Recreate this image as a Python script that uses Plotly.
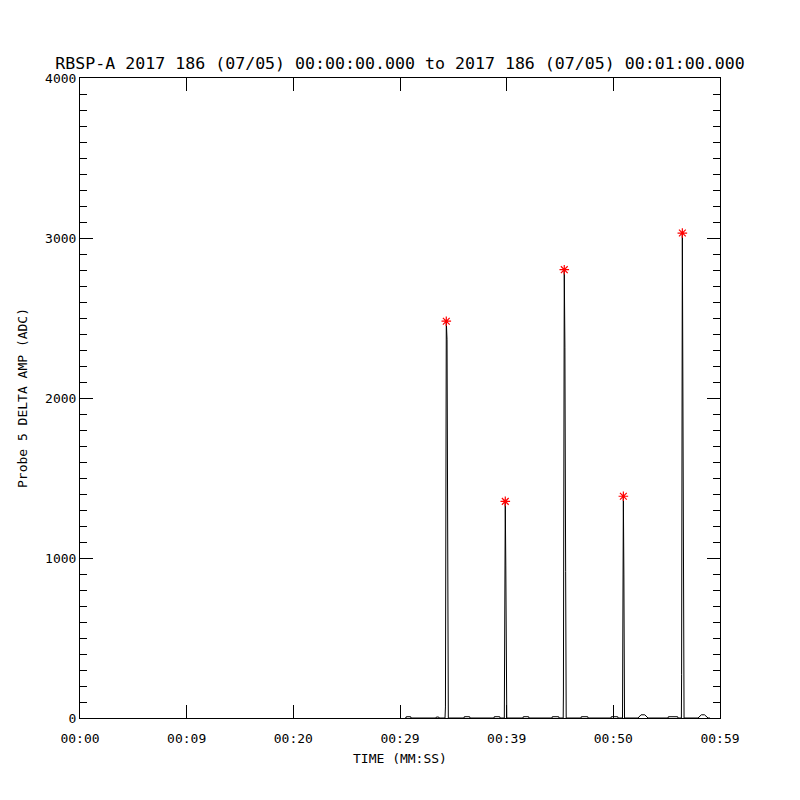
import plotly.graph_objects as go

# ---- data (time in seconds since 00:00:00, amplitude in ADC) ----
time_s = [30.47,
          30.56, 30.59, 31.00, 31.03,
          33.38, 33.41, 33.63, 33.66,
          34.22, 34.26, 34.34, 34.41, 34.50, 34.53,
          36.00, 36.03, 36.53, 36.56,
          38.81, 38.84, 39.35, 39.38,
          39.78, 39.81, 39.87, 39.92, 39.97, 40.01,
          41.53, 41.56, 42.06, 42.09,
          44.25, 44.28, 44.88, 44.91,
          45.30, 45.32, 45.40, 45.46, 45.53, 45.58,
          46.97, 47.00, 47.60, 47.63,
          49.78, 49.81, 50.41, 50.44,
          50.86, 50.89, 50.94, 50.99, 51.05,
          52.31, 52.40, 52.60, 52.95, 53.15, 53.25,
          55.13, 55.16, 56.03, 56.06,
          56.38, 56.40, 56.47, 56.53, 56.59, 56.63,
          57.94, 58.05, 58.25, 58.55, 58.75, 58.88,
          59.06]
amp_adc = [0,
           0, 8, 8, 0,
           0, 6, 6, 0,
           0, 69, 2480, 2364, 1125, 0,
           0, 8, 8, 0,
           0, 8, 8, 0,
           0, 850, 1354, 956, 80, 0,
           0, 8, 8, 0,
           0, 8, 8, 0,
           0, 150, 2802, 2318, 914, 0,
           0, 8, 8, 0,
           0, 8, 8, 0,
           0, 937, 1386, 894, 0,
           0, 8, 20, 20, 8, 0,
           0, 8, 8, 0,
           0, 270, 3031, 2212, 695, 0,
           0, 8, 20, 20, 8, 0,
           0]

peak_t = [34.34, 39.87, 45.40, 50.94, 56.47]
peak_amp = [2480, 1354, 2802, 1386, 3031]

x_tickvals = [0, 10, 20, 30, 40, 50, 60]
x_ticktext = ["00:00", "00:09", "00:20", "00:29", "00:39", "00:50", "00:59"]
y_tickvals = [0, 1000, 2000, 3000, 4000]
y_ticktext = ["0", "1000", "2000", "3000", "4000"]

title_text = "RBSP-A 2017 186 (07/05) 00:00:00.000 to 2017 186 (07/05) 00:01:00.000"
x_title = "TIME (MM:SS)"
y_title = "Probe 5 DELTA AMP (ADC)"

FONT = "DejaVu Sans Mono"
W = H = 792  # page body adds an 8px margin

fig = go.Figure()
fig.add_trace(go.Scatter(x=time_s, y=amp_adc, mode="lines",
                         line=dict(color="black", width=1),
                         hoverinfo="skip", showlegend=False))
fig.add_trace(go.Scatter(x=peak_t, y=peak_amp, mode="markers",
                         marker=dict(symbol="asterisk-open", size=8,
                                     color="red", line=dict(color="red", width=1.2)),
                         hoverinfo="skip", showlegend=False))

fig.update_layout(
    width=W, height=H,
    margin=dict(l=72, r=80, t=70, b=82),
    paper_bgcolor="white", plot_bgcolor="white",
    font=dict(family=FONT, size=13, color="black"),
    title=dict(text=title_text, x=(400 - 8) / W, xanchor="center", y=1 - 55 / H,
               yanchor="middle", font=dict(family=FONT, size=16.6, color="black")),
    xaxis=dict(range=[0, 60], tickvals=x_tickvals, ticktext=x_ticktext,
               ticks="inside", ticklen=13, tickwidth=1, tickcolor="black",
               showline=True, linecolor="black", linewidth=1, mirror="allticks",
               showgrid=False, zeroline=False, ticklabelstandoff=8,
               tickfont=dict(family=FONT, size=13, color="black")),
    yaxis=dict(range=[0, 4000], tickvals=y_tickvals, ticktext=y_ticktext,
               ticks="inside", ticklen=13, tickwidth=1, tickcolor="black",
               minor=dict(dtick=100, ticks="inside", ticklen=7, tickcolor="black",
                          showgrid=False),
               showline=True, linecolor="black", linewidth=1, mirror="allticks",
               showgrid=False, zeroline=False,
               tickfont=dict(family=FONT, size=13, color="black")),
    annotations=[
        dict(text=x_title, xref="paper", yref="paper", x=0.5, y=-40 / 640,
             xanchor="center", yanchor="middle", showarrow=False,
             font=dict(family=FONT, size=13, color="black")),
        dict(text=y_title, xref="paper", yref="paper", x=-58 / 640, y=0.5,
             xanchor="center", yanchor="middle", textangle=-90, showarrow=False,
             font=dict(family=FONT, size=13, color="black")),
    ],
)

fig.write_html("out.html")
